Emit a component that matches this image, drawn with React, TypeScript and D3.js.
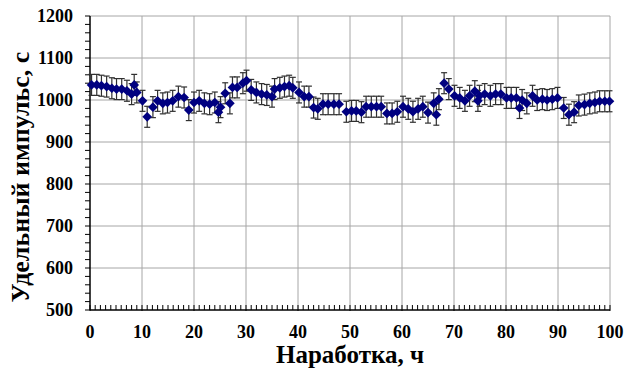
import React, { useEffect, useRef } from 'react';
import * as d3 from 'd3';

// Наработка (h) and specific impulse (s)
const hours = [
  0.3, 1.3, 2.2, 3.2, 4.2, 5.1, 6.1, 7.1, 8.0, 8.5, 9.0, 10.1, 11.0, 12.1, 13.0, 14.0, 14.9, 15.9, 17.0, 18.1,
  19.0, 20.0, 21.0, 22.0, 23.0, 24.0, 24.7, 25.1, 26.0, 26.9, 27.4, 28.3, 29.4, 30.1, 31.0, 32.0, 33.0, 34.0,
  35.0, 35.5, 36.5, 37.4, 38.3, 39.0, 40.2, 41.2, 42.1, 43.0, 43.8, 44.8, 45.8, 46.9, 47.9, 49.3, 50.3, 51.2,
  52.2, 53.1, 54.1, 55.1, 56.0, 57.1, 58.1, 59.1, 60.2, 61.2, 62.1, 63.1, 64.0, 65.0, 66.1, 66.6, 67.1, 68.1,
  69.0, 70.1, 71.1, 72.1, 73.0, 74.0, 74.6, 74.9, 75.9, 77.0, 78.0, 79.0, 80.1, 81.0, 82.0, 82.6, 83.1, 84.0,
  85.1, 86.0, 87.0, 87.9, 88.9, 89.9, 91.1, 92.1, 93.1, 94.0, 95.1, 96.1, 97.1, 98.0, 99.0, 99.9,
];
const impulse = [
  1036, 1036, 1034, 1032, 1028, 1026, 1026, 1022, 1014, 1036, 1018, 998, 960, 983, 998, 992, 994, 998, 1008, 1006,
  976, 994, 998, 992, 990, 994, 971, 983, 1016, 992, 1030, 1030, 1040, 1046, 1024, 1018, 1014, 1012,
  1008, 1026, 1029, 1032, 1034, 1029, 1018, 1008, 1008, 982, 979, 990, 990, 990, 990, 972, 974, 974,
  971, 984, 984, 984, 984, 968, 968, 972, 984, 979, 972, 979, 984, 970, 992, 965, 1002, 1040,
  1026, 1010, 1005, 998, 1010, 1021, 998, 1010, 1014, 1010, 1014, 1014, 1005, 1005, 1005, 981, 1000, 992,
  1010, 1000, 1002, 1000, 1002, 1005, 981, 965, 971, 987, 989, 992, 994, 997, 997, 997,
];
const errorHalf = 25;

const xTicks = [0, 10, 20, 30, 40, 50, 60, 70, 80, 90, 100];
const yTicks = [500, 600, 700, 800, 900, 1000, 1100, 1200];

const W = 626;
const H = 372;
const FONT = "'Liberation Serif', 'Times New Roman', Tinos, 'DejaVu Serif', serif";

export default function App() {
  const ref = useRef<SVGSVGElement>(null);

  useEffect(() => {
    if (!ref.current) return;
    const svg = d3.select(ref.current);
    svg.selectAll('*').remove();

    const left = 90, right = 610, top = 16, bottom = 310;
    const x = d3.scaleLinear().domain([0, 100]).range([left, right]);
    const y = d3.scaleLinear().domain([500, 1200]).range([bottom, top]);

    svg.append('rect').attr('width', W).attr('height', H).attr('fill', '#fff');

    // grid
    const grid = svg.append('g').attr('stroke', '#a6a6a6').attr('stroke-width', 1);
    xTicks.slice(1).forEach(t => {
      grid.append('line').attr('x1', x(t)).attr('x2', x(t)).attr('y1', top).attr('y2', bottom);
    });
    yTicks.slice(1).forEach(t => {
      grid.append('line').attr('x1', left).attr('x2', right).attr('y1', y(t)).attr('y2', y(t));
    });

    // axes
    const ax = svg.append('g').attr('stroke', '#000');
    ax.append('line').attr('x1', left).attr('x2', left).attr('y1', top).attr('y2', bottom).attr('stroke-width', 1.5);
    ax.append('line').attr('x1', left).attr('x2', right).attr('y1', bottom).attr('y2', bottom).attr('stroke-width', 1.5);
    d3.range(500, 1201, 20).forEach(v => {
      ax.append('line').attr('x1', left - 5).attr('x2', left).attr('y1', y(v)).attr('y2', y(v)).attr('stroke-width', 1);
    });
    d3.range(0, 101, 1).forEach(v => {
      const major = v % 10 === 0;
      ax.append('line').attr('x1', x(v)).attr('x2', x(v))
        .attr('y1', bottom - 5).attr('y2', bottom + (major ? 1 : 0)).attr('stroke-width', 1);
    });

    // tick labels
    svg.append('g').selectAll('text').data(yTicks).enter().append('text')
      .attr('x', 73).attr('y', d => y(d) + 6)
      .attr('text-anchor', 'end').style('font-family', FONT).style('font-weight', 'bold').style('font-size', '18px')
      .text(d => d);
    svg.append('g').selectAll('text').data(xTicks).enter().append('text')
      .attr('x', d => x(d)).attr('y', 338)
      .attr('text-anchor', 'middle').style('font-family', FONT).style('font-weight', 'bold').style('font-size', '18px')
      .text(d => d);

    // titles
    svg.append('text').attr('x', x(50)).attr('y', 363).attr('text-anchor', 'middle')
      .style('font-family', FONT).style('font-weight', 'bold').style('font-size', '25px')
      .text('Наработка, ч');
    svg.append('text').attr('transform', `translate(29,${(top + bottom) / 2 + 14}) rotate(-90)`)
      .attr('text-anchor', 'middle')
      .style('font-family', FONT).style('font-weight', 'bold').style('font-size', '26px')
      .text('Удельный импульс, с');

    const pts = hours.map((h, i) => ({ h, v: impulse[i] }));

    // error bars
    const eb = svg.append('g').attr('stroke', '#303030').attr('stroke-width', 1.2);
    pts.forEach(p => {
      const y1 = y(p.v + errorHalf), y2 = y(p.v - errorHalf), cx = x(p.h);
      eb.append('line').attr('x1', cx).attr('x2', cx).attr('y1', y1).attr('y2', y2);
      eb.append('line').attr('x1', cx - 3).attr('x2', cx + 3).attr('y1', y1).attr('y2', y1);
      eb.append('line').attr('x1', cx - 3).attr('x2', cx + 3).attr('y1', y2).attr('y2', y2);
    });

    // markers
    const diamond = d3.symbol().type(d3.symbolDiamond2).size(60);
    svg.append('g').selectAll('path').data(pts).enter().append('path')
      .attr('d', diamond)
      .attr('transform', p => `translate(${x(p.h)},${y(p.v)})`)
      .attr('fill', '#000080');
  }, []);

  return (
    <svg ref={ref} width={W} height={H}
      style={{ position: 'absolute', left: 0, top: 0, display: 'block' }} />
  );
}
